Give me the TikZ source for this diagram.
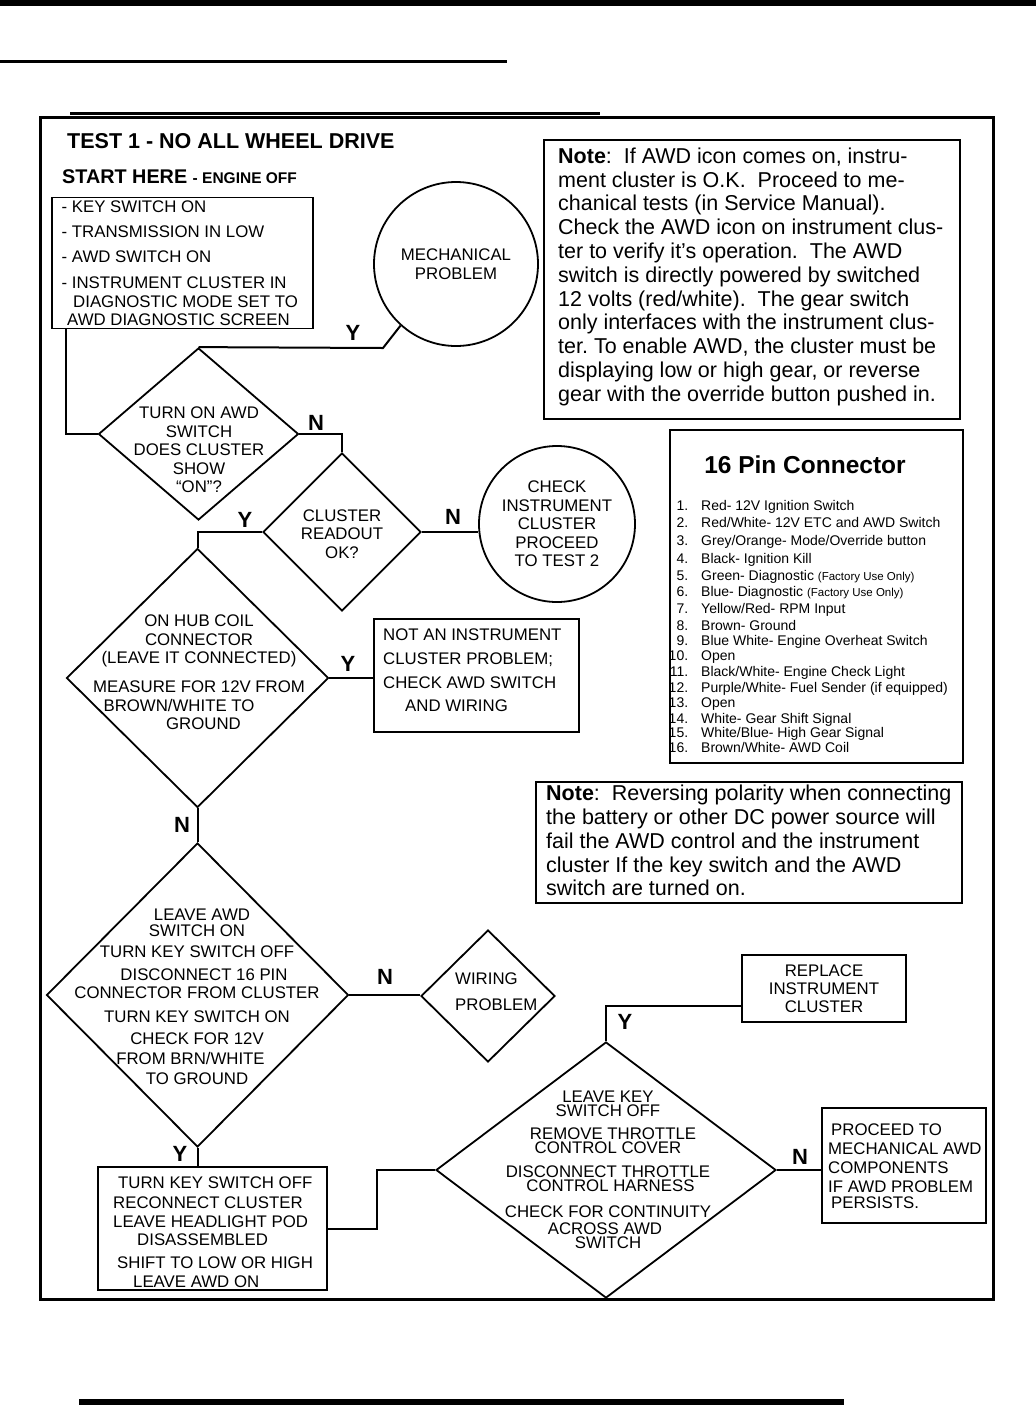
\documentclass[tikz,border=0pt]{standalone}
\usepackage{fontspec}
\setmainfont{Liberation Sans}
\usetikzlibrary{shapes.geometric, positioning}

\newcommand{\lpad}[2]{\mbox{\hspace{#1}#2}}
\newcommand{\rpad}[2]{\mbox{#2\hspace{#1}}}
\newcommand{\pin}[2]{\makebox[21pt][r]{#1}\hspace{13pt}#2}

\begin{document}
\begin{tikzpicture}[x=1pt, y=-1pt,
    flow/.style={font=\fontsize{16.8}{18.5}\selectfont, align=center, inner sep=0pt},
    flowl/.style={flow, align=left, anchor=west},
    decision/.style={draw, diamond, line width=1.8pt, inner sep=0pt},
    box/.style={draw, rectangle, line width=1.8pt, inner sep=0pt},
    endpt/.style={draw, circle, line width=1.8pt, inner sep=0pt},
    yn/.style={font=\bfseries\fontsize{22}{22}\selectfont, inner sep=0pt},
    conn/.style={line width=2pt},
    note/.style={font=\fontsize{21.5}{23.8}\selectfont, align=left, inner sep=0pt, anchor=north west},
    pinlist/.style={font=\fontsize{14}{15.9}\selectfont, align=left, inner sep=0pt, anchor=north west}
  ]
  \fill[white] (0,0) rectangle (1036,1428);
  \useasboundingbox (0,0) rectangle (1036,1428);
  % page rules and frame
  \fill (0,0) rectangle (1036,6);
  \fill (0,60) rectangle (507,63);
  \fill (70,112) rectangle (600,115);
  \fill (79,1399) rectangle (844,1405);
  \draw[line width=3pt] (40,117) rectangle (993,1299);

  % headings
  \node[anchor=base west, inner sep=0pt, font=\bfseries\fontsize{21.5}{24}\selectfont] (title) at (67,148) {TEST 1 - NO ALL WHEEL DRIVE};
  \node[anchor=base west, inner sep=0pt, font=\bfseries\fontsize{19.8}{22}\selectfont] (starthere) at (62,183) {START HERE {\fontsize{15.5}{18}\selectfont - ENGINE OFF}};

  % flow chart
  \node[box, minimum width=261pt, minimum height=131pt] (setup) at (182.5,263) {};
  \node[flowl] (setuptxt) at (61.5,263.5) {- KEY SWITCH ON\\[6.5pt]- TRANSMISSION IN LOW\\[6.5pt]- AWD SWITCH ON\\[7.5pt]- INSTRUMENT CLUSTER IN\\\lpad{11.5pt}{DIAGNOSTIC MODE SET TO}\\\lpad{5.5pt}{AWD DIAGNOSTIC SCREEN}};

  \node[endpt, flow, minimum size=164pt] (mech) at (456,264) {MECHANICAL\\PROBLEM};

  \node[decision, minimum width=200pt, minimum height=172pt] (awdon) at (198.5,434) {};
  \node[flow] (awdontxt) at (199,450) {TURN ON AWD\\SWITCH\\DOES CLUSTER\\SHOW\\“ON”?};

  \node[decision, minimum width=158pt, minimum height=158pt] (readout) at (342,532) {};
  \node[flow] (readouttxt) at (342,534) {CLUSTER\\READOUT\\OK?};

  \node[endpt, flow, minimum size=156pt] (checkcl) at (557,524) {CHECK\\INSTRUMENT\\CLUSTER\\PROCEED\\TO TEST 2};

  \node[decision, minimum width=262pt, minimum height=259pt] (hubcoil) at (197.5,678) {};
  \node[flow] (hubcoiltxt) at (199,672.5) {ON HUB COIL\\CONNECTOR\\(LEAVE IT CONNECTED)\\[10.5pt]MEASURE FOR 12V FROM\\\rpad{40pt}{BROWN/WHITE TO}\\\lpad{9pt}{GROUND}};

  \node[box, minimum width=205pt, minimum height=113pt] (notinst) at (476.5,675.5) {};
  \node[flowl, font=\fontsize{16.8}{23.7}\selectfont] (notinsttxt) at (383,670.5) {NOT AN INSTRUMENT\\CLUSTER PROBLEM;\\CHECK AWD SWITCH\\\lpad{22pt}{AND WIRING}};

  \node[decision, minimum width=302pt, minimum height=304pt] (leaveawd) at (197.5,995) {};
  \node[flow] (leaveawdtxt) at (197,997) {\lpad{10pt}{LEAVE AWD}\\[-2.5pt]SWITCH ON\\[2.5pt]TURN KEY SWITCH OFF\\[4.5pt]\lpad{14pt}{DISCONNECT 16 PIN}\\CONNECTOR FROM CLUSTER\\[5.5pt]TURN KEY SWITCH ON\\[3.5pt]CHECK FOR 12V\\[1.5pt]\rpad{13pt}{FROM BRN/WHITE}\\[1.5pt]TO GROUND};

  \node[decision, minimum width=134pt, minimum height=132pt] (wiring) at (488,996) {};
  \node[flowl] (wiringtxt) at (455,992) {WIRING\\[7.5pt]PROBLEM};

  \node[box, minimum width=229pt, minimum height=123pt] (keyoff) at (212.5,1228.5) {};
  \node[flowl] (keyofftxt) at (113,1231.8) {\lpad{5pt}{TURN KEY SWITCH OFF}\\[1.5pt]RECONNECT CLUSTER\\[0.5pt]LEAVE HEADLIGHT POD\\\lpad{24pt}{DISASSEMBLED}\\[4.5pt]\lpad{4pt}{SHIFT TO LOW OR HIGH}\\\lpad{20pt}{LEAVE AWD ON}};

  \node[decision, minimum width=340pt, minimum height=256pt] (throttle) at (606,1170) {};
  \node[flow, font=\fontsize{16.8}{14}\selectfont] (throttletxt) at (608,1170) {LEAVE KEY\\SWITCH OFF\\[9.5pt]\lpad{10pt}{REMOVE THROTTLE}\\CONTROL COVER\\[10pt]DISCONNECT THROTTLE\\\lpad{5pt}{CONTROL HARNESS}\\[12pt]CHECK FOR CONTINUITY\\[3pt]\rpad{6pt}{ACROSS AWD}\\SWITCH};

  \node[box, flow, minimum width=164pt, minimum height=67pt, font=\fontsize{16.8}{18}\selectfont] (replace) at (824,988.5) {REPLACE\\INSTRUMENT\\CLUSTER};

  \node[box, minimum width=164pt, minimum height=115pt] (proceed) at (904,1165.5) {};
  \node[flowl] (proceedtxt) at (828,1166) {\lpad{3pt}{PROCEED TO}\\MECHANICAL AWD\\[0.5pt]COMPONENTS\\[0.5pt]IF AWD PROBLEM\\[-2.5pt]\lpad{3pt}{PERSISTS.}};

  % yes / no marks
  \node[yn] (y1) at (353,333) {Y};
  \node[yn] (n1) at (316,423) {N};
  \node[yn] (y2) at (245,520) {Y};
  \node[yn] (n2) at (453,517) {N};
  \node[yn] (y3) at (348,664) {Y};
  \node[yn] (n3) at (182,825) {N};
  \node[yn] (n4) at (385,977) {N};
  \node[yn] (y4) at (180,1154) {Y};
  \node[yn] (y5) at (625,1022) {Y};
  \node[yn] (n5) at (800,1157) {N};

  % connectors
  \coordinate (mechbend) at (383,348);
  \draw[conn] ([xshift=15pt]setup.south west) |- (awdon.west);
  \draw[conn] (mech.228) -- (mechbend) -- (awdon.north);
  \draw[conn] (awdon.east) -| (readout.north);
  \draw[conn] (readout.east) -- (readout.east -| checkcl.west);
  \draw[conn] (readout.west) -| (hubcoil.north);
  \draw[conn] (hubcoil.east) -- (hubcoil.east -| notinst.west);
  \draw[conn] (hubcoil.south) -- (leaveawd.north);
  \draw[conn] (leaveawd.east) -- (leaveawd.east -| wiring.west);
  \draw[conn] (leaveawd.south) -- (leaveawd.south |- keyoff.north);
  \draw[conn] (keyoff.east) -- ++(49,0) |- (throttle.west);
  \draw[conn] ([yshift=-17.5pt]replace.west) -| (throttle.north);
  \draw[conn] (throttle.east) -- (throttle.east -| proceed.west);

  % notes
  \node[box, minimum width=416pt, minimum height=279pt] (note1) at (752,279.5) {};
  \node[note] (note1txt) at (558,147.5) {\textbf{Note}:\ \ If AWD icon comes on, instru-\\ment cluster is O.K.\ \ Proceed to me-\\chanical tests (in Service Manual).\\Check the AWD icon on instrument clus-\\ter to verify it’s operation.\ \ The AWD\\switch is directly powered by switched\\12 volts (red/white).\ \ The gear switch\\only interfaces with the instrument clus-\\ter.\ To enable AWD, the cluster must be\\displaying low or high gear, or reverse\\gear with the override button pushed in.};

  \node[box, minimum width=426pt, minimum height=121pt] (note2) at (749,842.5) {};
  \node[note] (note2txt) at (546,785) {\textbf{Note}:\ \ Reversing polarity when connecting\\the battery or other DC power source will\\fail the AWD control and the instrument\\cluster If the key switch and the AWD\\switch are turned on.};

  % connector pin list
  \node[box, minimum width=293pt, minimum height=333pt] (pinbox) at (816.5,596.5) {};
  \node[font=\bfseries\fontsize{24.5}{28}\selectfont, inner sep=0pt] (pintitle) at (805,465) {16 Pin Connector};
  \node[pinlist] (pins) at (667,500) {\pin{1.}{Red- 12V Ignition Switch}\\[1.5pt]
    \pin{2.}{Red/White- 12V ETC and AWD Switch}\\[1.5pt]
    \pin{3.}{Grey/Orange- Mode/Override button}\\[2pt]
    \pin{4.}{Black- Ignition Kill}\\[1.5pt]
    \pin{5.}{Green- Diagnostic {\fontsize{11.5}{15}\selectfont (Factory Use Only)}}\\[0.5pt]
    \pin{6.}{Blue- Diagnostic {\fontsize{11.5}{15}\selectfont (Factory Use Only)}}\\[1pt]
    \pin{7.}{Yellow/Red- RPM Input}\\[0.5pt]
    \pin{8.}{Brown- Ground}\\[-0.5pt]
    \pin{9.}{Blue White- Engine Overheat Switch}\\[-0.5pt]
    \pin{10.}{Open}\\[-0.5pt]
    \pin{11.}{Black/White- Engine Check Light}\\
    \pin{12.}{Purple/White- Fuel Sender (if equipped)}\\[-0.5pt]
    \pin{13.}{Open}\\
    \pin{14.}{White- Gear Shift Signal}\\[-1.5pt]
    \pin{15.}{White/Blue- High Gear Signal}\\[-1.5pt]
    \pin{16.}{Brown/White- AWD Coil}};
\end{tikzpicture}
\end{document}
